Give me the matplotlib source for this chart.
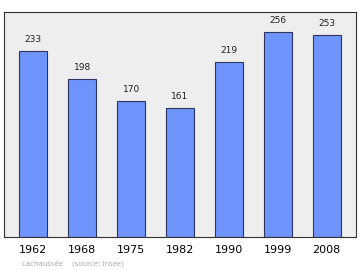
import matplotlib
matplotlib.use('Agg')
import matplotlib.pyplot as plt

years = ['1962', '1968', '1975', '1982', '1990', '1999', '2008']
population = [233, 198, 170, 161, 219, 256, 253]

BAR_COLOR = '#6f94fb'
EDGE_COLOR = '#2b3560'

fig = plt.figure(figsize=(3.6, 2.7), dpi=100)
ax = fig.add_axes([4 / 360, 1 - 237 / 270, 352 / 360, 225 / 270])
ax.set_facecolor('#eeeeee')

x = range(len(years))
ax.bar(x, population, width=0.57, color=BAR_COLOR, edgecolor=EDGE_COLOR, linewidth=0.8)
for xi, v in zip(x, population):
    ax.text(xi, v + 9, str(v), ha='center', va='bottom', fontsize=6.5, color='#222222')

ax.set_xlim(-0.6, 6.6)
ax.set_ylim(0, max(population) * 1.1)
ax.set_yticks([])
ax.set_xticks(list(x))
ax.set_xticklabels(years, fontsize=8)
ax.tick_params(axis='x', length=0, pad=6)
for s in ax.spines.values():
    s.set_color('#333333')
    s.set_linewidth(0.8)

fig.text(22 / 360, 1 - 263 / 270, 'Lachaussée    (source: Insee)', fontsize=5,
         color='#aaaaaa', va='center', ha='left')

fig.savefig('out.png', dpi=100)
